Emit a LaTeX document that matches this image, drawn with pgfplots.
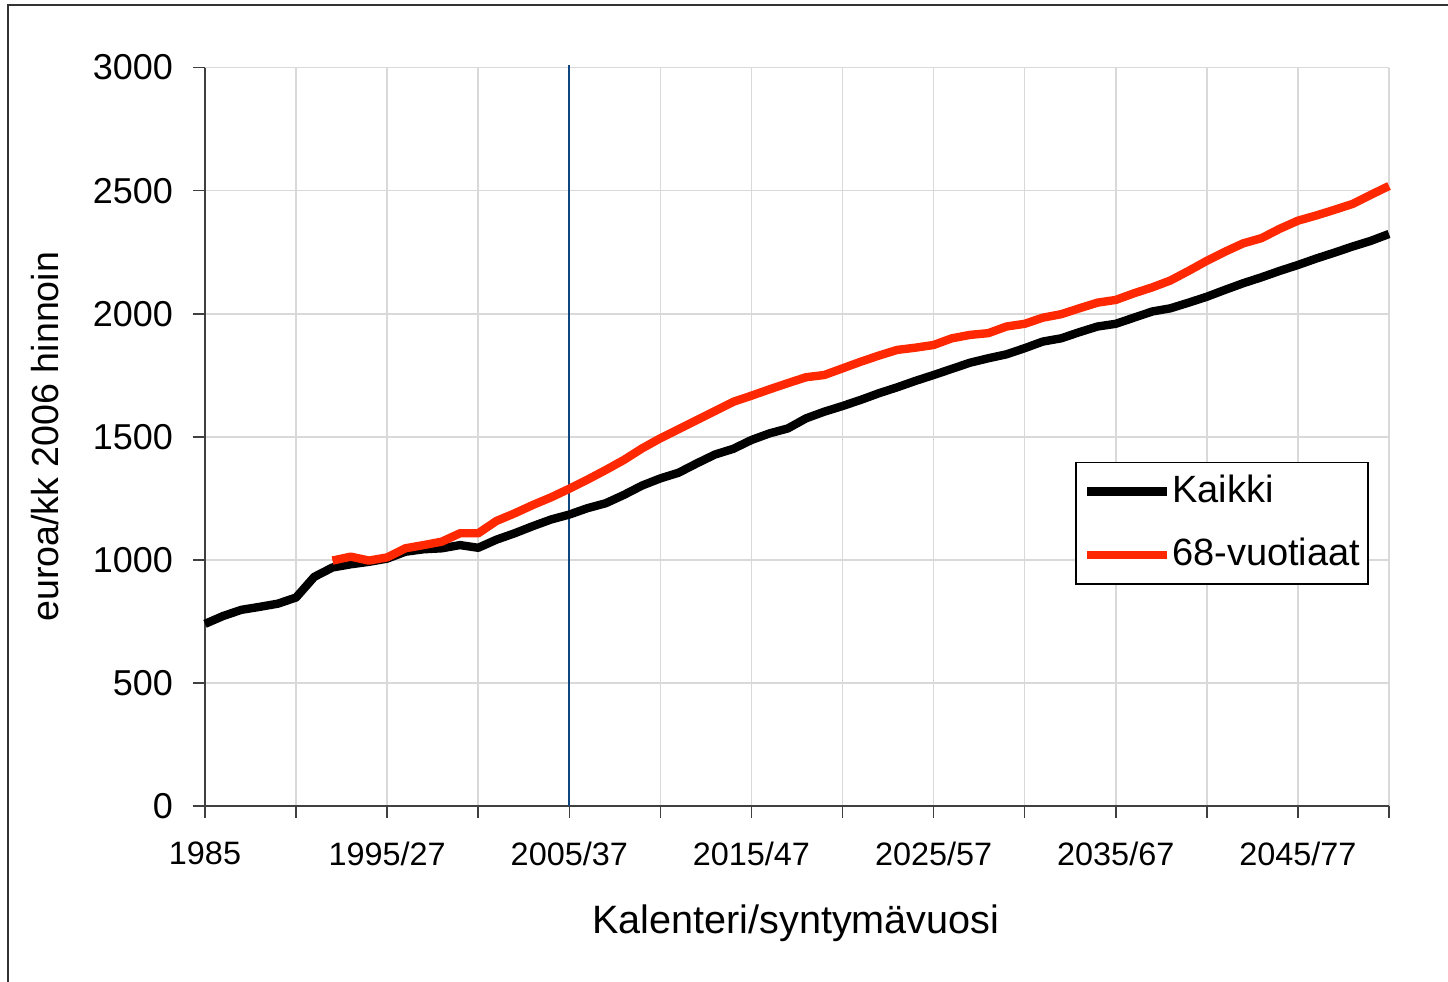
\documentclass[border=0pt]{standalone}
\usepackage{pgfplots}
\pgfplotsset{compat=1.18}
\usepackage{fontspec}
\setmainfont{Liberation Sans}
\definecolor{redline}{RGB}{255,40,0}
\definecolor{blueline}{RGB}{16,70,128}
\begin{document}
\begin{tikzpicture}
% page = 1448x982 px at 0.25pt per px, axis origin at px (205,806)
\useasboundingbox (-51.25pt,-44pt) rectangle (310.75pt,201.5pt);
\draw[black!80, line width=0.5pt] (-49.25pt,-44pt) -- (-49.25pt,200.25pt) -- (310.75pt,200.25pt);
\begin{axis}[
    at={(0pt,0pt)}, anchor=south west,
    scale only axis,
    width=296pt, height=184.6pt,
    xmin=1985, xmax=2050,
    ymin=0, ymax=3000,
    xtick={1985,1990,...,2050},
    xticklabels={1985,,1995/27,,2005/37,,2015/47,,2025/57,,2035/67,,2045/77,},
    ytick={0,500,...,3000},
    axis lines=left,
    axis line style={-, draw=black!75, line width=0.4pt},
    tick align=outside,
    major tick length=3pt,
    tick style={draw=black!75, line width=0.4pt},
    grid=major,
    grid style={draw=black!15, line width=0.4pt},
    /pgf/number format/assume math mode=true,
    yticklabel style={font=\fontsize{9pt}{10pt}\selectfont, xshift=-1.5pt},
    xticklabel style={font=\fontsize{8.1pt}{10pt}\selectfont, yshift=-2.5pt},
    scaled y ticks=false,
    yticklabel={\pgfmathprintnumber[fixed,1000 sep={}]{\tick}},
    xlabel={Kalenteri/syntymävuosi},
    ylabel={euroa/kk 2006 hinnoin},
    xlabel style={font=\fontsize{9.9pt}{11pt}\selectfont, at={(axis description cs:0.499,-0.1585)}, anchor=center},
    ylabel style={font=\fontsize{9.4pt}{11pt}\selectfont, at={(axis description cs:-0.1351,0.5)}, anchor=center},
    legend style={at={(0.7348,0.466)}, anchor=north west,
        draw=black, line width=0.4pt, fill=white,
        font=\fontsize{9.5pt}{11pt}\selectfont,
        inner xsep=1.8pt, inner ysep=1pt,
        nodes={inner xsep=0.2pt},
        row sep=3.5pt},
    legend cell align=left,
    legend image code/.code={\draw[#1] (0pt,0pt) -- (20pt,0pt);},
    clip=false,
]
\addplot[blueline, line width=0.5pt, forget plot] coordinates {(2005,0) (2005,3012)};
\addplot[black, line width=2.1pt, line join=round] coordinates {
(1985,740) (1986,772) (1987,797) (1988,809) (1989,822) (1990,847)
(1991,931) (1992,969) (1993,982) (1994,992) (1995,1005) (1996,1033)
(1997,1043) (1998,1047) (1999,1060) (2000,1049) (2001,1082) (2002,1108)
(2003,1137) (2004,1164) (2005,1184) (2006,1210) (2007,1230) (2008,1264)
(2009,1302) (2010,1331) (2011,1354) (2012,1392) (2013,1428) (2014,1451)
(2015,1487) (2016,1514) (2017,1534) (2018,1575) (2019,1602) (2020,1625)
(2021,1650) (2022,1677) (2023,1701) (2024,1727) (2025,1751) (2026,1776)
(2027,1801) (2028,1819) (2029,1835) (2030,1860) (2031,1887) (2032,1900)
(2033,1925) (2034,1948) (2035,1959) (2036,1984) (2037,2009) (2038,2022)
(2039,2045) (2040,2069) (2041,2097) (2042,2124) (2043,2148) (2044,2174)
(2045,2198) (2046,2224) (2047,2248) (2048,2273) (2049,2296) (2050,2324)
};
\addplot[redline, line width=2.1pt, line join=round] coordinates {
(1992,997) (1993,1013) (1994,997) (1995,1010) (1996,1047) (1997,1060)
(1998,1074) (1999,1108) (2000,1108) (2001,1158) (2002,1189) (2003,1223)
(2004,1254) (2005,1289) (2006,1326) (2007,1365) (2008,1406) (2009,1453)
(2010,1494) (2011,1531) (2012,1568) (2013,1605) (2014,1642) (2015,1667)
(2016,1693) (2017,1718) (2018,1742) (2019,1751) (2020,1778) (2021,1805)
(2022,1830) (2023,1853) (2024,1862) (2025,1873) (2026,1900) (2027,1914)
(2028,1921) (2029,1948) (2030,1959) (2031,1984) (2032,1998) (2033,2022)
(2034,2045) (2035,2056) (2036,2083) (2037,2107) (2038,2135) (2039,2174)
(2040,2215) (2041,2252) (2042,2286) (2043,2307) (2044,2345) (2045,2378)
(2046,2399) (2047,2422) (2048,2446) (2049,2483) (2050,2519)
};
\legend{Kaikki,68-vuotiaat}
\end{axis}
\end{tikzpicture}
\end{document}
